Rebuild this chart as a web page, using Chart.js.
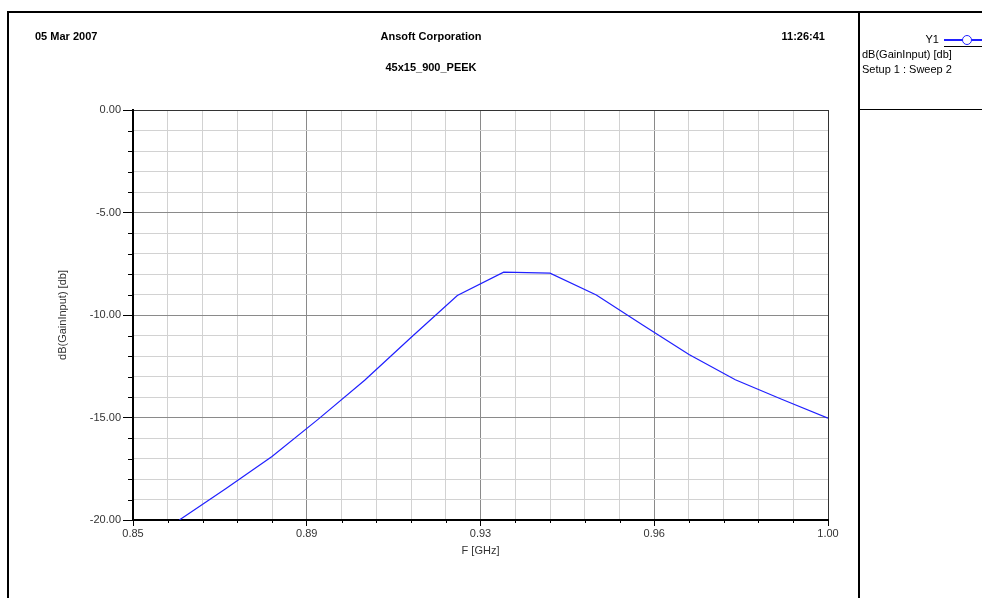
<!DOCTYPE html>
<html>
<head>
<meta charset="utf-8">
<script src="https://cdn.jsdelivr.net/npm/chart.js@4.4.0/dist/chart.umd.min.js"></script>
<style>
  html, body { margin: 0; padding: 0; background: #fff; }
  #wrap { position: relative; width: 982px; height: 598px; overflow: hidden; font-family: "Liberation Sans", Arial, sans-serif; }
  #plot { position: absolute; left: 0; top: 0; }
  .hdr { position: absolute; font-weight: bold; font-size: 11px; color: #000; white-space: nowrap; line-height: 13px; }
  .leg { position: absolute; font-size: 11px; color: #000; white-space: nowrap; line-height: 13px; }
  .bar { position: absolute; background: #000; }
</style>
</head>
<body>
<div id="wrap">
  <canvas id="plot" width="982" height="598"></canvas>

  <!-- frame -->
  <div class="bar" style="left:7px; top:11px; width:975px; height:2px;"></div>
  <div class="bar" style="left:7px; top:11px; width:2px; height:587px;"></div>
  <div class="bar" style="left:858px; top:11px; width:2px; height:587px;"></div>
  <div class="bar" style="left:859px; top:109px; width:123px; height:1px;"></div>

  <!-- header -->
  <div class="hdr" style="left:35px; top:30px;">05 Mar 2007</div>
  <div class="hdr" style="left:431px; top:30px; transform:translateX(-50%);">Ansoft Corporation</div>
  <div class="hdr" style="right:157px; top:30px;">11:26:41</div>
  <div class="hdr" style="left:431px; top:61px; transform:translateX(-50%);">45x15_900_PEEK</div>

  <!-- legend -->
  <div class="leg" style="right:43px; top:33px;">Y1</div>
  <div class="bar" style="left:944px; top:39px; width:38px; height:2px; background:#2020ff;"></div>
  <div style="position:absolute; left:962px; top:35px; width:8px; height:8px; border:1px solid #2020ff; border-radius:50%; background:#fff;"></div>
  <div class="bar" style="left:944px; top:46px; width:38px; height:1px;"></div>
  <div class="leg" style="left:862px; top:48px;">dB(GainInput) [db]</div>
  <div class="leg" style="left:862px; top:63px;">Setup 1 : Sweep 2</div>
</div>

<script>
// sweep points
const freqs = [0.86, 0.87, 0.88, 0.89, 0.90, 0.91, 0.92, 0.93, 0.94, 0.95, 0.96, 0.97, 0.98, 0.99, 1.00];
const gainDb = [-20.0, -18.47, -16.9, -15.08, -13.18, -11.10, -9.05, -7.91, -7.96, -9.02, -10.49, -11.93, -13.16, -14.11, -15.03];

// major tick values, each split into 5 minor steps
const xMajor = [0.85, 0.8875, 0.925, 0.9625, 1.00];
const yMajor = [-20, -15, -10, -5, 0];
const minorSplit = 5;

function subdivide(majors) {
  const out = [];
  for (let i = 0; i < majors.length - 1; i++) {
    const step = (majors[i + 1] - majors[i]) / minorSplit;
    for (let k = 0; k < minorSplit; k++) out.push({ value: majors[i] + step * k });
  }
  out.push({ value: majors[majors.length - 1] });
  return out;
}

const gridColor = (ctx) => {
  if (ctx.index === minorSplit * (ctx.scale.id === 'x' ? xMajor.length - 1 : yMajor.length - 1)) return '#333';
  return ctx.index % minorSplit === 0 ? '#8a8a8a' : '#d2d2d2';
};
const tickColor = (ctx) => ctx.index % minorSplit === 0 ? '#000' : 'rgba(0,0,0,0)';

// short minor ticks outside the axes
const minorTicks = {
  id: 'minorTicks',
  afterDraw(chart) {
    const c = chart.ctx;
    const area = chart.chartArea;
    c.save();
    c.strokeStyle = '#000';
    c.lineWidth = 1;
    c.beginPath();
    chart.scales.x.ticks.forEach((t, i) => {
      if (i % minorSplit === 0) return;
      const px = Math.round(chart.scales.x.getPixelForValue(t.value)) + 0.5;
      c.moveTo(px, area.bottom);
      c.lineTo(px, area.bottom + 3);
    });
    chart.scales.y.ticks.forEach((t, i) => {
      if (i % minorSplit === 0) return;
      const py = Math.round(chart.scales.y.getPixelForValue(t.value)) + 0.5;
      c.moveTo(area.left, py);
      c.lineTo(area.left - 5, py);
    });
    c.stroke();
    c.restore();
  }
};

const tickFont = { family: '"Liberation Sans", Arial, sans-serif', size: 11 };

new Chart(document.getElementById('plot'), {
  type: 'line',
  data: {
    datasets: [{
      label: 'dB(GainInput) [db]',
      data: freqs.map((f, i) => ({ x: f, y: gainDb[i] })),
      borderColor: 'rgb(32,32,255)',
      borderWidth: 1.2,
      pointRadius: 0,
      tension: 0
    }]
  },
  options: {
    responsive: false,
    animation: false,
    layout: { padding: { top: 110, right: 154, left: 0, bottom: 0 } },
    plugins: { legend: { display: false }, tooltip: { enabled: false } },
    scales: {
      x: {
        type: 'linear',
        min: xMajor[0],
        max: xMajor[xMajor.length - 1],
        afterBuildTicks: (s) => { s.ticks = subdivide(xMajor); },
        afterFit: (s) => { s.height = 78; },
        border: { color: '#000', width: 2 },
        grid: { color: gridColor, tickColor: tickColor, tickLength: 6, lineWidth: 1 },
        ticks: {
          autoSkip: false, maxRotation: 0, padding: 1, color: '#333', font: tickFont,
          callback: (v, i) => i % minorSplit === 0 ? v.toFixed(2) : ''
        },
        title: { display: true, text: 'F [GHz]', color: '#333', font: tickFont, padding: { top: 0, bottom: 40 } }
      },
      y: {
        type: 'linear',
        min: yMajor[0],
        max: yMajor[yMajor.length - 1],
        afterBuildTicks: (s) => { s.ticks = subdivide(yMajor); },
        afterFit: (s) => { s.width = 133; },
        border: { color: '#000', width: 2 },
        grid: { color: gridColor, tickColor: tickColor, tickLength: 10, lineWidth: 1 },
        ticks: {
          autoSkip: false, padding: 2, color: '#333', font: tickFont,
          callback: (v, i) => i % minorSplit === 0 ? v.toFixed(2) : ''
        },
        title: { display: true, text: 'dB(GainInput) [db]', color: '#333', font: tickFont, padding: { top: 56, bottom: 0 } }
      }
    }
  },
  plugins: [minorTicks]
});
</script>
</body>
</html>
